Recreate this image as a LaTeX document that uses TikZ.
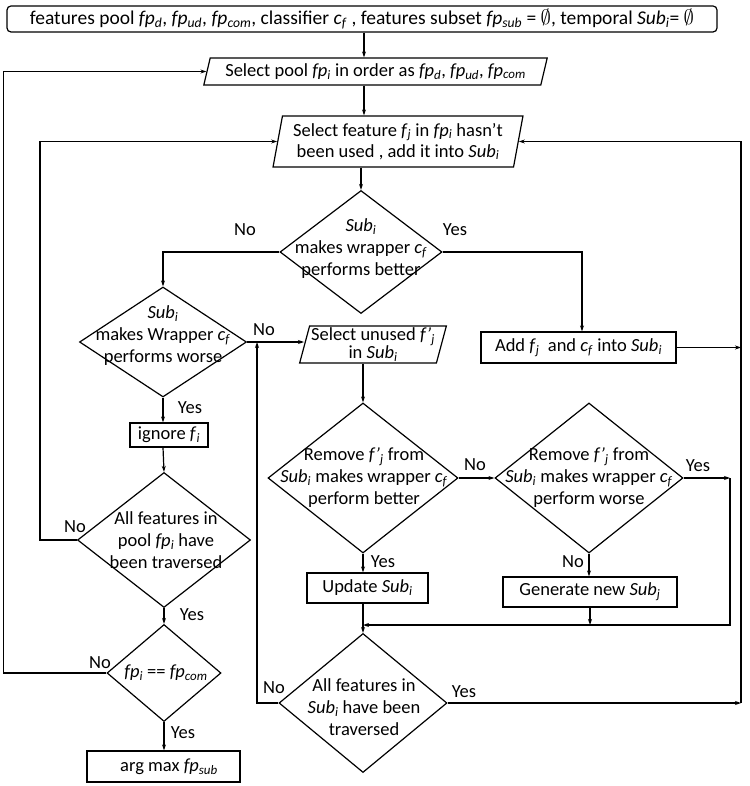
\documentclass[tikz,border=0pt]{standalone}
\usepackage{fontspec}
\setmainfont{Carlito}
\usetikzlibrary{shapes.geometric,arrows.meta,calc}
\newcommand{\iv}[2]{\textit{#1}\textsubscript{\textit{#2}}}
\newcommand{\fpj}{\textit{f\kern1pt\textquoteright}\textsubscript{\textit{j}}}
\begin{document}
\begin{tikzpicture}[x=1pt,y=-1pt,
  font=\fontsize{18.5}{22}\selectfont, line width=1.2pt,
  arr/.style={-{Stealth[length=6pt,width=4pt]}},
  box/.style={draw, rectangle, inner sep=0pt, align=center},
  dia/.style={draw, diamond, inner sep=0pt},
  para/.style={draw, trapezium, trapezium stretches=true, inner sep=0pt, align=center},
  txt/.style={inner sep=0pt, align=center},
  lab/.style={inner sep=0pt}]
\useasboundingbox (0,0) rectangle (749,786);

% nodes
\node[box, rounded corners=4pt, minimum width=710, minimum height=26, font=\fontsize{19.5}{22}\selectfont] (top) at (362,19)
  {features pool \iv{fp}{d}, \iv{fp}{ud}, \iv{fp}{com}, classifier \iv{c}{f} , features subset \iv{fp}{sub} = $\emptyset$, temporal \iv{Sub}{i}= $\emptyset$};
\node[para, trapezium left angle=70, trapezium right angle=110, minimum width=345, minimum height=27] (pool) at (375.5,71.5)
  {Select pool \iv{fp}{i} in order as \iv{fp}{d}, \iv{fp}{ud}, \iv{fp}{com}};
\node[para, trapezium left angle=77, trapezium right angle=103, minimum width=250, minimum height=51] (feature) at (398,141.5)
  {Select feature \iv{f}{j} in \iv{fp}{i} hasn’t\\[-1pt] been used , add it into \iv{Sub}{i}};
\node[dia, minimum width=162, minimum height=123] (d1) at (361,252) {};
\node[txt] at (361,249) {\iv{Sub}{i}\\makes wrapper \iv{c}{f}\\performs better};
\node[dia, minimum width=167, minimum height=110] (d2) at (163,342) {};
\node[txt] at (163,336) {\iv{Sub}{i}\\makes Wrapper \iv{c}{f}\\performs worse};
\node[para, trapezium left angle=74, trapezium right angle=106, minimum width=147, minimum height=37] (unused) at (373,344.5)
  {Select unused \fpj\\[-4pt] in \iv{Sub}{i}};
\node[box, minimum width=195, minimum height=31] (add) at (578.5,347.5)
  {Add \iv{f}{j}\ \ and \iv{c}{f} into \iv{Sub}{i}};
\node[box, minimum width=78, minimum height=24] (ignore) at (169,435) {ignore \iv{f}{i}};
\node[dia, minimum width=173, minimum height=135] (d3) at (164,540) {};
\node[txt] at (166,540) {All features in\\pool \iv{fp}{i} have\\been traversed};
\node[dia, minimum width=114, minimum height=97] (d4) at (164,673) {};
\node[txt] at (166,673) {\iv{fp}{i} == \iv{fp}{com}};
\node[box, minimum width=153, minimum height=31] (argmax) at (163.5,766.5) {};
\node[txt] at (169,766.5) {arg max \iv{fp}{sub}};
\node[dia, minimum width=190, minimum height=150] (d5) at (363,478) {};
\node[txt] at (364,478) {Remove \fpj\ from\\\iv{Sub}{i} makes wrapper \iv{c}{f}\\perform better};
\node[dia, minimum width=188, minimum height=150] (d6) at (589,478) {};
\node[txt] at (589,478) {Remove \fpj\ from\\\iv{Sub}{i} makes wrapper \iv{c}{f}\\perform worse};
\node[box, minimum width=121, minimum height=30] (update) at (367.5,588) {Update \iv{Sub}{i}};
\node[box, minimum width=174, minimum height=30] (gen) at (590,592) {Generate new \iv{Sub}{j}};
\node[dia, minimum width=168, minimum height=139] (d7) at (363,703) {};
\node[txt] at (364,707) {All features in\\\iv{Sub}{i} have been\\traversed};

% helper coordinates
\coordinate (R) at (741,0);
\coordinate (R2) at (730,0);
\coordinate (J1) at (257,342);
\coordinate (M) at (363,625);

% connectors
\draw[arr] (top.south -| 364,0) -- (364,0 |- pool.north);
\draw[arr] (pool.south -| 364,0) -- (364,0 |- feature.north);
\draw[arr] (feature.south -| d1.north) -- (d1.north);
\draw[arr] (d1.west) -| (d2.north);
\draw[arr] (d1.east) -| (d1.east -| 582,0) -- (582,0 |- add.north);
\draw[arr] (d2.east) -- (d2.east -| unused.west);
\draw[arr] (d7.west) -| (J1);
\draw[arr] (d2.south) -- (d2.south |- ignore.north);
\draw[arr] (ignore.south -| d2.south) -- (d3.north);
\draw[arr] (d3.west) -- ++(-37,0) |- (feature.west);
\draw[arr] (d3.south) -- (d4.north);
\draw[arr] (d4.west) -- ++(-103,0) |- (pool.west);
\draw[arr] (d4.south) -- (d4.south |- argmax.north);
\draw[arr] (add.east) -- (add.east -| R);
\draw[arr] (d7.east) -- (d7.east -| R);
\draw[arr] (d7.east -| R) |- (feature.east);
\draw[arr] (unused.south -| d5.north) -- (d5.north);
\draw[arr] (d5.east) -- (d6.west);
\draw[arr] (d6.east) -- (d6.east -| R2);
\draw[arr] (d6.east -| R2) |- (M);
\draw[arr] (d5.south) -- (d5.south |- update.north);
\draw[arr] (update.south -| d7.north) -- (d7.north);
\draw[arr] (d6.south) -- (d6.south |- gen.north);
\draw[arr] (gen.south) -- (gen.south |- M);

% labels
\node[lab] at (245,230) {No};
\node[lab] at (455,230) {Yes};
\node[lab] at (264,330) {No};
\node[lab] at (190,408) {Yes};
\node[lab] at (75,527) {No};
\node[lab] at (192,615) {Yes};
\node[lab] at (100,663) {No};
\node[lab] at (183,733) {Yes};
\node[lab] at (475,465) {No};
\node[lab] at (698,466) {Yes};
\node[lab] at (383,562) {Yes};
\node[lab] at (573,562) {No};
\node[lab] at (274,688) {No};
\node[lab] at (464,692) {Yes};
\end{tikzpicture}
\end{document}
